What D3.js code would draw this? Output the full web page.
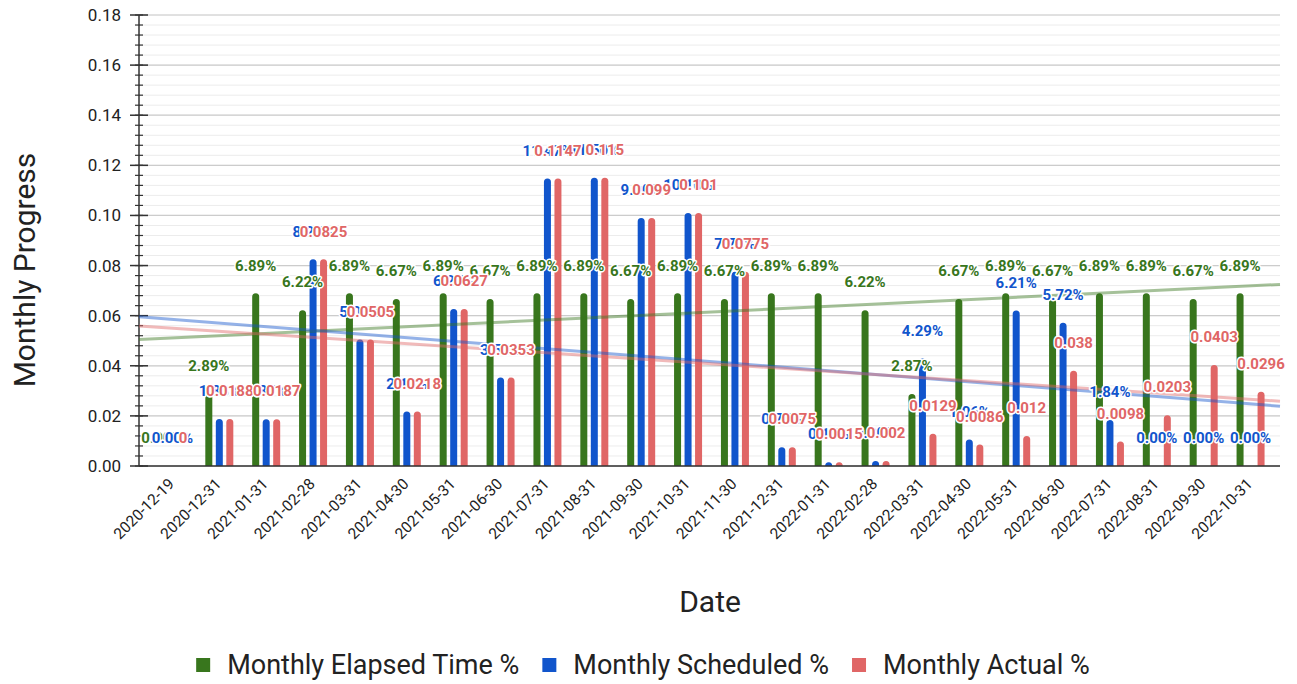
<!DOCTYPE html>
<html>
<head>
<meta charset="utf-8">
<script src="https://cdn.jsdelivr.net/npm/d3@7"></script>
<style>
  html, body { margin: 0; padding: 0; background: #fff; }
  svg { display: block; font-family: Roboto, "Noto Sans", sans-serif; }
</style>
</head>
<body>
<svg id="chart" width="1297" height="684"></svg>
<script>
// ---- data ----
const dates = ["2020-12-19", "2020-12-31", "2021-01-31", "2021-02-28", "2021-03-31", "2021-04-30",
  "2021-05-31", "2021-06-30", "2021-07-31", "2021-08-31", "2021-09-30", "2021-10-31",
  "2021-11-30", "2021-12-31", "2022-01-31", "2022-02-28", "2022-03-31", "2022-04-30",
  "2022-05-31", "2022-06-30", "2022-07-31", "2022-08-31", "2022-09-30", "2022-10-31"];
const elapsed = [0, 0.0289, 0.0689, 0.0622, 0.0689, 0.0667, 0.0689, 0.0667, 0.0689, 0.0689, 0.0667, 0.0689,
  0.0667, 0.0689, 0.0689, 0.0622, 0.0287, 0.0667, 0.0689, 0.0667, 0.0689, 0.0689, 0.0667, 0.0689];
const scheduled = [0, 0.0188, 0.0187, 0.0825, 0.0505, 0.0218, 0.0627, 0.0353, 0.1147, 0.115, 0.099, 0.101,
  0.0775, 0.0075, 0.0015, 0.002, 0.0429, 0.0106, 0.0621, 0.0572, 0.0184, 0, 0, 0];
const actual = [0, 0.0188, 0.0187, 0.0825, 0.0505, 0.0218, 0.0627, 0.0353, 0.1147, 0.115, 0.099, 0.101,
  0.0775, 0.0075, 0.0015, 0.002, 0.0129, 0.0086, 0.012, 0.038, 0.0098, 0.0203, 0.0403, 0.0296];
const seriesNames = ["Monthly Elapsed Time %", "Monthly Scheduled %", "Monthly Actual %"];
const seriesColors = ["#38761d", "#1155cc", "#e06666"];

// ---- layout ----
const svg = d3.select("#chart");
const plotLeft = 139, plotRight = 1280, plotTop = 15, plotBottom = 466;

const x = d3.scaleBand().domain(dates).range([149, 1274]);
const y = d3.scaleLinear().domain([0, 0.18]).range([plotBottom, plotTop]);
const offset = d3.scalePoint().domain(seriesNames).range([-10.5, 10.5]);
const barW = 7;

const pct = d3.format(".2%");
const series = [
  { name: seriesNames[0], color: seriesColors[0], values: elapsed, label: v => pct(v) },
  { name: seriesNames[1], color: seriesColors[1], values: scheduled, label: v => pct(v) },
  { name: seriesNames[2], color: seriesColors[2], values: actual, label: v => String(v) }
];

// gridlines
const minor = d3.range(0, 0.1801, 0.004);
const major = y.ticks(9);
svg.append("g").selectAll("line").data(minor).enter().append("line")
  .attr("x1", plotLeft).attr("x2", plotRight)
  .attr("y1", d => y(d)).attr("y2", d => y(d))
  .attr("stroke", "#ececec").attr("stroke-width", 1);
svg.append("g").selectAll("line").data(major).enter().append("line")
  .attr("x1", plotLeft).attr("x2", plotRight)
  .attr("y1", d => y(d)).attr("y2", d => y(d))
  .attr("stroke", "#cccccc").attr("stroke-width", 1.2);

// y axis with ticks crossing the line
const yAxis = svg.append("g");
yAxis.append("line").attr("x1", plotLeft).attr("x2", plotLeft)
  .attr("y1", plotTop).attr("y2", plotBottom).attr("stroke", "#333").attr("stroke-width", 1.5);
yAxis.selectAll(".minor").data(minor).enter().append("line")
  .attr("x1", plotLeft - 4).attr("x2", plotLeft + 4)
  .attr("y1", d => y(d)).attr("y2", d => y(d))
  .attr("stroke", "#333").attr("stroke-width", 1.2);
yAxis.selectAll(".major").data(major).enter().append("line")
  .attr("x1", plotLeft - 9).attr("x2", plotLeft + 9)
  .attr("y1", d => y(d)).attr("y2", d => y(d))
  .attr("stroke", "#333").attr("stroke-width", 1.5);
yAxis.selectAll("text").data(major).enter().append("text")
  .attr("x", 121).attr("y", d => y(d)).attr("dy", "0.35em")
  .attr("text-anchor", "end").attr("font-size", 17).attr("fill", "#222")
  .text(d3.format(".2f"));

// bars with rounded tops
function barPath(cx, v) {
  const x0 = cx - barW / 2, top = y(v), h = plotBottom - top, r = Math.min(barW / 2, h);
  if (h <= 0) return "";
  return `M${x0},${plotBottom}V${top + r}A${r},${r} 0 0 1 ${x0 + r},${top}` +
    `H${x0 + barW - r}A${r},${r} 0 0 1 ${x0 + barW},${top + r}V${plotBottom}Z`;
}
series.forEach(s => {
  svg.append("g").selectAll("path").data(s.values).enter().append("path")
    .attr("d", (v, i) => barPath(x(dates[i]) + x.bandwidth() / 2 + offset(s.name), v))
    .attr("fill", s.color);
});

// x baseline
svg.append("line").attr("x1", plotLeft).attr("x2", plotRight)
  .attr("y1", plotBottom).attr("y2", plotBottom).attr("stroke", "#333").attr("stroke-width", 1.5);

// linear trendlines (least squares over category index)
const step = x.step();
const c0 = x(dates[0]) + x.bandwidth() / 2;
series.forEach(s => {
  const mx = d3.mean(s.values, (v, i) => i), my = d3.mean(s.values);
  const slope = d3.sum(s.values, (v, i) => (i - mx) * (v - my)) / d3.sum(s.values, (v, i) => (i - mx) * (i - mx));
  const f = i => my + slope * (i - mx);
  const i0 = (plotLeft - c0) / step, i1 = (plotRight - c0) / step;
  svg.append("line")
    .attr("x1", plotLeft).attr("y1", y(f(i0)))
    .attr("x2", plotRight).attr("y2", y(f(i1)))
    .attr("stroke", s.color).attr("stroke-opacity", 0.45).attr("stroke-width", 3);
});

// data labels
series.forEach(s => {
  svg.append("g").selectAll("text").data(s.values).enter().append("text")
    .attr("x", (v, i) => x(dates[i]) + x.bandwidth() / 2 + offset(s.name))
    .attr("y", v => y(v) - 28).attr("dy", "0.35em")
    .attr("text-anchor", "middle").attr("font-size", 15).attr("font-weight", "bold")
    .attr("fill", s.color).attr("stroke", "#fff").attr("stroke-width", 3)
    .attr("stroke-linejoin", "round").attr("paint-order", "stroke")
    .text(v => s.label(v));
});

// x tick labels
svg.append("g").selectAll("text").data(dates).enter().append("text")
  .attr("transform", d => `translate(${x(d) + x.bandwidth() / 2 - 1},${plotBottom + 15}) rotate(-45)`)
  .attr("text-anchor", "end").attr("dy", "0.35em")
  .attr("font-size", 15.5).attr("fill", "#222").text(d => d);

// axis titles
svg.append("text").attr("transform", "translate(35,270) rotate(-90)")
  .attr("text-anchor", "middle").attr("font-size", 30).attr("fill", "#222").text("Monthly Progress");
svg.append("text").attr("x", 710).attr("y", 612)
  .attr("text-anchor", "middle").attr("font-size", 30).attr("fill", "#222").text("Date");

// legend
const legend = svg.append("g");
let lx = 0;
series.forEach(s => {
  const g = legend.append("g").attr("transform", `translate(${lx},0)`);
  g.append("rect").attr("x", 0).attr("y", -7).attr("width", 14).attr("height", 14).attr("fill", s.color);
  const t = g.append("text").attr("x", 31).attr("dy", "0.35em").attr("font-size", 27)
    .attr("fill", "#222").text(s.name);
  lx += 31 + t.node().getComputedTextLength() + 23;
});
lx -= 23;
legend.attr("transform", `translate(${643 - lx / 2},665)`);
</script>
</body>
</html>
